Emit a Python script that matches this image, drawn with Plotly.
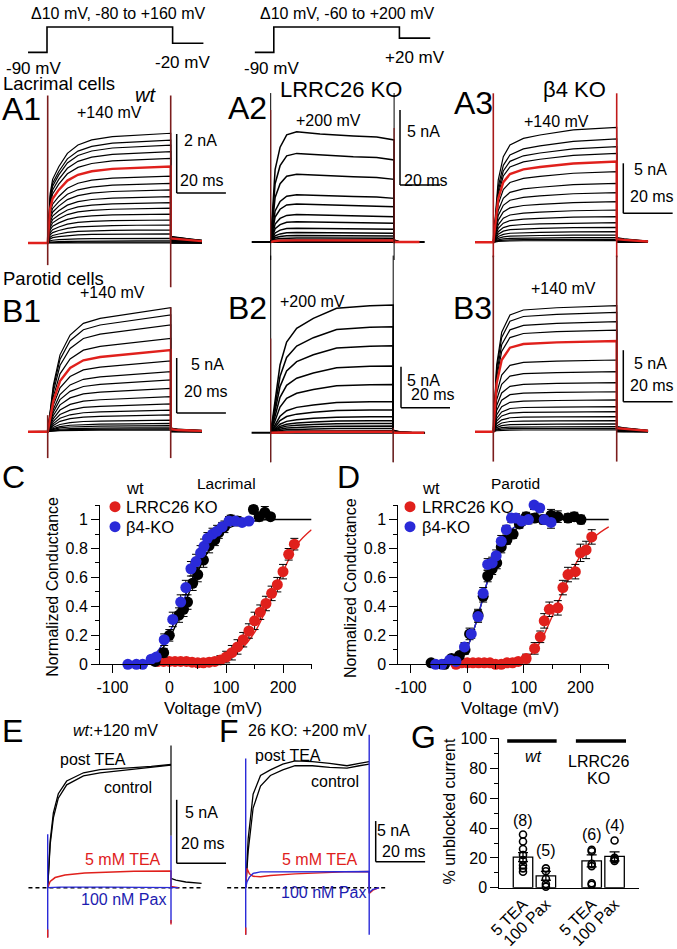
import plotly.graph_objects as go

W, H = 677, 949
FONT = "Liberation Sans, Arial, sans-serif"
RED = "#e0201c"
BLUE = "#2a2ad8"
DKRED = "#7b1d1d"

# ---------------- data: voltage protocols (schematic, ms / mV) ----------------
prot_t = [-8, 0, 0, 53, 53, 66]
prot1_mv = [-90, -90, 105, 105, -20, -20]
prot2_mv = [-90, -90, 105, 105, 20, 20]

# ---------------- data: current families (ms, nA) ----------------
TAIL_DT = [0, 3, 8, 12.7]

a1_t = [0, 1, 2, 4.5, 8, 12.3, 17.9, 26.3, 36.2, 50]
a1_shape = [0, 0.45, 0.58, 0.695, 0.817, 0.893, 0.939, 0.97, 0.985, 1.0]
a1_amp = [3.72, 3.49, 3.32, 3.10, 2.87, 2.59, 2.27, 2.02, 1.80, 1.57, 1.37, 1.18,
          0.98, 0.78, 0.61, 0.44, 0.31, 0.16, 0.07, 0.03, 0.0]
a1_red = 5
a1_tail = [0.06, 0.05, 0.035, 0.025]

a2_t = [0, 2.2, 4.7, 8, 13, 24.7, 41.3, 53, 61.7]
a2_shape = [0, 0.71, 0.93, 1.05, 1.08, 1.06, 1.04, 1.03, 1.0]
a2_amp = [6.8, 5.47, 4.18, 2.91, 2.35, 1.69, 1.25, 0.85, 0.58, 0.4, 0.25, 0.13, 0.1]
a2_red = 12
a2_tail = [0.02, 0.0, 0.0, 0.0]

a3_t = [0, 2.0, 4.05, 6.75, 12.2, 18.9, 32.4, 50]
a3_shape = [0, 0.54, 0.745, 0.846, 0.904, 0.933, 0.977, 1.0]
a3_amp = [11.5, 10.33, 9.57, 8.9, 8.07, 7.07, 5.9, 4.97, 4.07, 3.23, 2.57, 1.97,
          1.5, 1.07, 0.73, 0.47, 0.3, 0.17]
a3_red = 4
a3_tail = [0.04, 0.03, 0.02, 0.01]

b1_t = [0, 2.3, 5.0, 9.1, 14.5, 21.3, 34.8, 50]
b1_shape = [0, 0.376, 0.62, 0.78, 0.874, 0.914, 0.954, 1.0]
b1_amp = [11.27, 10.61, 9.7, 8.48, 7.43, 6.43, 5.45, 4.7, 3.94, 3.18, 2.52, 1.97,
          1.52, 1.06, 0.75, 0.55, 0.36, 0.25, 0.15]
b1_red = 4
b1_tail = [0.03, 0.02, 0.015, 0.01]

b2_t = [0, 1.8, 3.8, 6.5, 10.6, 17.4, 26.9, 40.5, 50]
b2_shape = [0, 0.243, 0.53, 0.71, 0.817, 0.896, 0.974, 0.995, 1.0]
b2_amp = [15.57, 12.93, 10.61, 8.13, 5.89, 3.78, 2.77, 1.95, 1.46, 1.13, 0.82, 0.52, 0.24, 0.12]
b2_red = 13
b2_tail = [0.02, 0.005, 0.0, 0.0]

b3_t = [0, 1.35, 3.4, 6.75, 12.2, 25.7, 50]
b3_shape = [0, 0.53, 0.79, 0.926, 0.966, 0.984, 1.0]
b3_amp = [12.23, 11.58, 10.68, 9.87, 8.81, 6.96, 5.83, 4.76, 3.88, 3.08, 2.43, 1.94,
          1.46, 1.07, 0.75, 0.49, 0.32, 0.17]
b3_red = 4
b3_tail = [0.04, 0.03, 0.02, 0.01]

# E: wt, +120 mV
e_t = [0, 1, 2.3, 4.3, 7.7, 14.5, 21.2, 28, 34.7, 42, 50]
e_control = [0, 3.4, 5.5, 7.05, 8.1, 8.8, 9.05, 9.2, 9.35, 9.5, 9.65]
e_post = [0, 3.7, 5.9, 7.4, 8.4, 9.05, 9.3, 9.35, 9.45, 9.55, 9.7]
e_tail_t = [50, 52, 56, 62.4]
e_tail = [0.74, 0.6, 0.45, 0.34]
e_tea_t = [0, 1, 3, 7, 15, 25, 35, 50, 50, 53]
e_tea = [0, 0.5, 0.8, 1.0, 1.15, 1.25, 1.3, 1.32, 0.1, 0.0]
e_pax_t = [0, 5, 25, 50, 53]
e_pax = [0, 0.05, 0.05, 0.05, 0.0]

# F: LRRC26 KO, +200 mV
f_t = [0, 1, 3, 6, 10, 15, 20, 27, 34, 41, 46, 50]
f_post = [0, 6.0, 11.5, 13.8, 14.5, 15.2, 15.6, 15.5, 15.3, 15.0, 15.3, 15.5]
f_control = [0, 4.5, 9.8, 12.5, 13.8, 14.5, 15.0, 15.0, 14.8, 14.7, 15.0, 15.2]
f_tea_t = [0, 0.5, 1.5, 3, 6, 10, 20, 30, 40, 50, 50, 51.5, 54]
f_tea = [0, 2.4, 1.7, 1.4, 1.35, 1.5, 1.7, 1.85, 1.95, 2.0, -0.7, -0.3, 0.0]
f_pax_t = [0, 0.5, 1.5, 3, 6, 10, 20, 30, 40, 50, 50, 51.5, 54]
f_pax = [0, 0.7, 1.3, 1.76, 1.95, 1.95, 1.9, 1.95, 1.97, 2.0, -0.6, -0.2, 0.0]

# ---------------- data: G-V curves ----------------
c_wt_v = [-40, -25, -10, 0, 17, 25, 32, 41, 50, 60, 70, 80, 87, 97, 108, 120, 148, 158, 168, 178]
c_wt_g = [-0.04, 0.02, 0.08, 0.2, 0.34, 0.38, 0.43, 0.56, 0.62, 0.72, 0.82, 0.86, 0.91, 0.95, 1.0, 0.99, 1.07, 1.02, 1.05, 1.02]
c_wt_e = [0.01, 0.02, 0.03, 0.04, 0.05, 0.05, 0.05, 0.05, 0.05, 0.05, 0.05, 0.04, 0.04, 0.04, 0.03, 0.03, 0.03, 0.03, 0.04, 0.02]
c_b4_v = [-73, -58, -47, -32, -23, -9, 6, 20, 29, 38, 47, 55, 61, 67, 76, 84, 93, 105, 116, 128, 140]
c_b4_g = [0.0, 0.0, 0.0, 0.035, 0.05, 0.17, 0.31, 0.43, 0.53, 0.66, 0.71, 0.77, 0.815, 0.87, 0.9, 0.92, 0.95, 0.99, 0.99, 0.98, 0.99]
c_b4_e = [0.01, 0.01, 0.01, 0.02, 0.02, 0.04, 0.05, 0.05, 0.05, 0.05, 0.05, 0.05, 0.05, 0.04, 0.04, 0.04, 0.03, 0.03, 0.02, 0.02, 0.02]
c_red_v = [-30, -20, -10, 0, 10, 20, 30, 40, 50, 60, 70, 80, 90, 100, 110, 120, 130, 140, 150, 160, 170, 180, 190, 200, 210, 220]
c_red_g = [0.03, 0.02, 0.02, 0.02, 0.02, 0.02, 0.02, 0.015, 0.01, 0.01, 0.015, 0.02, 0.03, 0.05, 0.08, 0.12, 0.17, 0.23, 0.3, 0.36, 0.42, 0.49, 0.55, 0.64, 0.76, 0.83]
c_red_e = [0.01, 0.01, 0.01, 0.01, 0.01, 0.01, 0.01, 0.01, 0.01, 0.01, 0.02, 0.02, 0.03, 0.04, 0.05, 0.05, 0.05, 0.05, 0.06, 0.05, 0.05, 0.05, 0.05, 0.05, 0.04, 0.04]
c_fit_v = [-60, -40, -25, -10, 0, 12.5, 25, 37.5, 50, 62.5, 75, 100, 125, 150, 175, 200, 250]
c_fit_wt = [0.0, 0.01, 0.05, 0.12, 0.18, 0.28, 0.40, 0.52, 0.64, 0.74, 0.82, 0.93, 0.97, 0.99, 1.0, 1.0, 1.0]
c_fit_b4 = [0.005, 0.02, 0.07, 0.15, 0.22, 0.32, 0.44, 0.56, 0.67, 0.77, 0.84, 0.94, 0.98, 0.99, 1.0, 1.0, 1.0]
c_fit_red_v = [-40, 0, 50, 100, 125, 150, 175, 200, 225, 250]
c_fit_red = [0.01, 0.01, 0.01, 0.04, 0.1, 0.22, 0.42, 0.64, 0.83, 0.93]

d_wt_v = [-64, -52, -40, -28, -14, -4, 4, 19, 28, 36, 44, 52, 60, 70, 81, 92, 104, 119, 134, 148, 160, 178, 189, 201]
d_wt_g = [0.01, -0.01, 0.0, 0.04, 0.06, 0.1, 0.21, 0.34, 0.47, 0.61, 0.66, 0.7, 0.81, 0.86, 0.9, 0.97, 1.02, 1.01, 1.0, 1.03, 1.02, 1.01, 1.02, 1.0]
d_wt_e = [0.01, 0.01, 0.01, 0.02, 0.02, 0.03, 0.04, 0.04, 0.04, 0.04, 0.04, 0.04, 0.04, 0.03, 0.03, 0.03, 0.03, 0.03, 0.03, 0.04, 0.04, 0.03, 0.03, 0.03]
d_b4_v = [-56, -45, -31, -20, -5, 7, 19, 28, 36, 44, 51, 60, 69, 78, 86, 96, 108, 118, 128, 136, 148]
d_b4_g = [0.0, 0.0, 0.03, 0.02, 0.12, 0.21, 0.33, 0.49, 0.69, 0.7, 0.75, 0.85, 0.93, 1.01, 1.01, 0.99, 1.0, 1.1, 1.08, 1.0, 0.98]
d_b4_e = [0.01, 0.01, 0.02, 0.02, 0.03, 0.03, 0.04, 0.04, 0.04, 0.04, 0.04, 0.04, 0.03, 0.03, 0.03, 0.03, 0.03, 0.03, 0.03, 0.03, 0.04]
d_red_v = [-34, -20, -10, 0, 10, 20, 30, 40, 50, 60, 70, 80, 90, 104, 119, 129, 136, 145, 160, 169, 178, 191, 200, 210, 220]
d_red_g = [-0.02, 0.0, 0.01, 0.01, 0.01, 0.01, 0.01, 0.01, 0.0, 0.0, 0.01, 0.01, 0.02, 0.04, 0.11, 0.19, 0.3, 0.38, 0.39, 0.53, 0.62, 0.64, 0.77, 0.79, 0.88]
d_red_e = [0.01, 0.01, 0.01, 0.01, 0.01, 0.01, 0.01, 0.01, 0.01, 0.01, 0.01, 0.01, 0.02, 0.03, 0.04, 0.04, 0.05, 0.05, 0.05, 0.05, 0.05, 0.05, 0.06, 0.06, 0.05]
d_fit_v = [-70, -40, -25, -10, 0, 12.5, 25, 37.5, 50, 62.5, 75, 100, 125, 150, 200, 250]
d_fit_wt = [0.0, 0.01, 0.03, 0.07, 0.12, 0.25, 0.42, 0.6, 0.74, 0.85, 0.92, 0.98, 1.0, 1.0, 1.0, 1.0]
d_fit_red_v = [-40, 50, 100, 125, 150, 175, 200, 225, 250]
d_fit_red = [0.0, 0.0, 0.03, 0.13, 0.33, 0.56, 0.75, 0.88, 0.95]

# ---------------- data: G bar chart ----------------
g_pos = [0, 1, 3, 4]
g_labels = ["5 TEA", "100 Pax", "5 TEA", "100 Pax"]
g_mean = [20.5, 8, 18, 21]
g_sem = [3, 3, 4, 3]
g_points = [
    [35.7, 31, 26, 22, 18.5, 15, 13, 10.7],
    [13, 11, 6, 2.5, 0.7],
    [25.5, 24.5, 16, 14.5, 3, 2],
    [31.7, 20, 19, 18],
]
g_n = ["(8)", "(5)", "(6)", "(4)"]
g_n_y = [45.3, 25.2, 36, 42]

# ---------------- helpers ----------------
fig = go.Figure()
lay = {}
ax_n = [0]


def new_axes(box, xr, yr, xstyle=None, ystyle=None):
    ax_n[0] += 1
    n = ax_n[0]
    s = "" if n == 1 else str(n)
    L, R, T, B = box
    xd = dict(domain=[L / W, R / W], range=xr, anchor="y" + s, fixedrange=True,
              showgrid=False, zeroline=False, automargin=False)
    yd = dict(domain=[1 - B / H, 1 - T / H], range=yr, anchor="x" + s, fixedrange=True,
              showgrid=False, zeroline=False, automargin=False)
    if xstyle is None:
        xd["visible"] = False
    else:
        xd.update(xstyle)
    if ystyle is None:
        yd["visible"] = False
    else:
        yd.update(ystyle)
    lay["xaxis" + s] = xd
    lay["yaxis" + s] = yd
    return "x" + s, "y" + s


def px_axes(g):
    L, R, T, B = g["box"]
    xr = [(L - g["x0"]) / g["sx"], (R - g["x0"]) / g["sx"]]
    yr = [(g["y0"] - B) / g["sy"], (g["y0"] - T) / g["sy"]]
    return new_axes(g["box"], xr, yr)


def line(ax, x, y, color="black", width=1.2, dash=None, shape="linear"):
    fig.add_trace(go.Scatter(x=x, y=y, mode="lines", xaxis=ax[0], yaxis=ax[1],
                             line=dict(color=color, width=width, dash=dash, shape=shape),
                             hoverinfo="skip"))


def family(ax, t, shape, amps, red, pre, tail, lw=1.2):
    T = t[-1]
    order = [i for i in range(len(amps)) if i != red] + [red]
    for i in order:
        a = amps[i]
        x = [-pre, 0] + list(t) + [T + d for d in TAIL_DT]
        y = [0, 0] + [a * s for s in shape] + [a * f for f in tail]
        line(ax, x, y, RED if i == red else "black", 2.4 if i == red else lw)


shapes = []
annos = []


def scalebar(ax, g, corner, ilen, tlen=20, lw=1.5):
    t = (corner[0] - g["x0"]) / g["sx"]
    i = (g["y0"] - corner[1]) / g["sy"]
    shapes.append(dict(type="line", xref=ax[0], yref=ax[1], x0=t, x1=t, y0=i, y1=i + ilen,
                       line=dict(color="black", width=lw)))
    shapes.append(dict(type="line", xref=ax[0], yref=ax[1], x0=t, x1=t + tlen, y0=i, y1=i,
                       line=dict(color="black", width=lw)))


def txt(s, x, y, size=16, color="black", xanchor="center", angle=0, yanchor="middle"):
    annos.append(dict(text=s, x=x / W, y=1 - y / H, xref="paper", yref="paper",
                      showarrow=False, xanchor=xanchor, yanchor=yanchor, textangle=angle,
                      borderpad=0, font=dict(size=size, color=color, family=FONT)))


GEOM = {
    "P1": dict(box=(15, 215, 18, 62), x0=47.0, sx=2.37, y0=40.7, sy=0.13),
    "P2": dict(box=(240, 445, 18, 62), x0=273.8, sx=2.37, y0=40.7, sy=0.13),
    "A1": dict(box=(15, 232, 88, 300), x0=47.7, sx=2.46, y0=243, sy=29.5),
    "A2": dict(box=(238, 455, 88, 300), x0=270.7, sx=2.0, y0=242, sy=15),
    "A3": dict(box=(455, 677, 88, 300), x0=493.3, sx=2.468, y0=242.3, sy=10),
    "B1": dict(box=(15, 232, 250, 470), x0=47.7, sx=2.46, y0=431.7, sy=11),
    "B2": dict(box=(238, 455, 250, 470), x0=270.7, sx=2.45, y0=432.7, sy=8.2),
    "B3": dict(box=(455, 677, 250, 470), x0=493.3, sx=2.468, y0=431.7, sy=10.3),
    "E": dict(box=(15, 232, 725, 945), x0=47.7, sx=2.466, y0=887.7, sy=12.7),
    "F": dict(box=(225, 445, 725, 945), x0=245.7, sx=2.47, y0=887.7, sy=8.13),
}

# ---------------- protocols ----------------
axP1 = px_axes(GEOM["P1"])
line(axP1, prot_t, prot1_mv, width=1.6)
axP2 = px_axes(GEOM["P2"])
line(axP2, prot_t, prot2_mv, width=1.6)
txt("\u039410 mV, -80 to +160 mV", 118, 13, 16)
txt("-90 mV", 33.6, 68, 17)
txt("-20 mV", 183, 63, 17)
txt("\u039410 mV, -60 to +200 mV", 347, 13, 16)
txt("-90 mV", 271, 68, 17)
txt("+20 mV", 415, 57, 17)

# ---------------- A row ----------------
axA1 = px_axes(GEOM["A1"])
family(axA1, a1_t, a1_shape, a1_amp, a1_red, 8, a1_tail)
line(axA1, [0, 0], [5.0, -0.75], DKRED, 1.6)
line(axA1, [50, 50], [5.0, -1.5], DKRED, 1.6)
scalebar(axA1, GEOM["A1"], (176.7, 193), 2)

axA2 = px_axes(GEOM["A2"])
line(axA2, [-9.5, 77], [0, 0], "black", 2)
family(axA2, a2_t, a2_shape, a2_amp, a2_red, 0, a2_tail, lw=1.5)
line(axA2, [0, 0], [9.93, -1.2], "black", 1)
line(axA2, [0, 0], [8.8, 0.13], DKRED, 1.2)
line(axA2, [61.7, 61.7], [9.93, -1.2], "black", 1)
line(axA2, [61.7, 61.7], [7.6, 0.13], DKRED, 1.2)
scalebar(axA2, GEOM["A2"], (400, 185), 5)

axA3 = px_axes(GEOM["A3"])
family(axA3, a3_t, a3_shape, a3_amp, a3_red, 7.4, a3_tail)
line(axA3, [0, 0], [14.9, -1.5], "#a81a1a", 1.6)
line(axA3, [50, 50], [14.9, -1.5], "#c01a1a", 1.6)
scalebar(axA3, GEOM["A3"], (623.3, 213.3), 5)

txt("Lacrimal cells", 2, 83, 18.5, xanchor="left")
txt("A1", 1, 108.5, 32, xanchor="left")
txt("<i>wt</i>", 145, 95, 20)
txt("+140 mV", 109, 113, 16)
txt("2 nA", 200, 141, 16)
txt("20 ms", 201.5, 180, 16)
txt("A2", 248, 107.5, 32)
txt("LRRC26 KO", 341, 90, 22)
txt("+200 mV", 328, 120, 16)
txt("5 nA", 423, 131.7, 16)
txt("20 ms", 426, 180, 16)
txt("A3", 473, 103, 32)
txt("\u03b24 KO", 574, 90, 22)
txt("+140 mV", 556, 121.7, 16)
txt("5 nA", 650, 169, 16)
txt("20 ms", 652, 196, 16)

# ---------------- B row ----------------
axB1 = px_axes(GEOM["B1"])
family(axB1, b1_t, b1_shape, b1_amp, b1_red, 8, b1_tail)
line(axB1, [0, 0], [1.5, -2.4], DKRED, 1.6)
line(axB1, [50, 50], [11.3, -2.4], DKRED, 1.6)
scalebar(axB1, GEOM["B1"], (176.7, 413), 5)

axB2 = px_axes(GEOM["B2"])
line(axB2, [-7.8, 63], [0, 0], "black", 2)
family(axB2, b2_t, b2_shape, b2_amp, b2_red, 0, b2_tail, lw=1.5)
line(axB2, [0, 0], [21.6, -3.6], "black", 1)
line(axB2, [0, 0], [11.5, -3.6], DKRED, 1.2)
line(axB2, [50, 50], [21.6, -3.6], "black", 1)
line(axB2, [50, 50], [0.6, -3.6], DKRED, 1.2)
scalebar(axB2, GEOM["B2"], (401, 407.7), 5)

axB3 = px_axes(GEOM["B3"])
family(axB3, b3_t, b3_shape, b3_amp, b3_red, 7.4, b3_tail)
line(axB3, [0, 0], [17.1, -2.9], DKRED, 1.6)
line(axB3, [50, 50], [17.1, -2.9], DKRED, 1.6)
scalebar(axB3, GEOM["B3"], (623.3, 401.7), 5)

txt("Parotid cells", 2, 279, 18.5, xanchor="left")
txt("B1", 1, 311, 32, xanchor="left")
txt("+140 mV", 112, 292, 16)
txt("5 nA", 207, 364, 16)
txt("20 ms", 206, 391.7, 16)
txt("B2", 248, 308, 32)
txt("+200 mV", 312, 301.7, 16)
txt("5 nA", 423, 380, 16)
txt("20 ms", 433, 394, 16)
txt("B3", 472, 308, 32)
txt("+140 mV", 563, 288.3, 16)
txt("5 nA", 650, 363, 16)
txt("20 ms", 652, 386, 16)

# ---------------- C and D ----------------
CBOX = (100, 311.7, 505, 664.3)
DBOX = (398.3, 609, 505, 664.3)
XR = [-122, 250.5]
YR = [0, 1.1005]
tick_font = dict(size=16, family=FONT, color="black")
gv_x = dict(showline=True, linecolor="black", linewidth=1, ticks="outside", ticklen=8,
            tickcolor="black", tickfont=tick_font, tickmode="array",
            tickvals=[-100, 0, 100, 200], ticktext=["-100", "0", "100", "200"],
            minor=dict(ticks="outside", ticklen=4, tickcolor="black", dtick=50, tick0=0))
gv_y = dict(showline=True, linecolor="black", linewidth=1, ticks="outside", ticklen=8,
            tickcolor="black", tickfont=tick_font, dtick=0.2, tick0=0,
            minor=dict(ticks="outside", ticklen=4, tickcolor="black", dtick=0.1, tick0=0))


def to_data(box, xr, yr, px, py):
    L, R, T, B = box
    return (xr[0] + (px - L) / (R - L) * (xr[1] - xr[0]),
            yr[0] + (B - py) / (B - T) * (yr[1] - yr[0]))


def pts(ax, v, g, e, color):
    fig.add_trace(go.Scatter(x=v, y=g, mode="markers", xaxis=ax[0], yaxis=ax[1],
                             cliponaxis=False, hoverinfo="skip",
                             marker=dict(size=11, color=color, line=dict(width=0)),
                             error_y=dict(type="data", array=e, color="black",
                                          thickness=1, width=4)))


def legend(ax, box, mx, tx):
    for name, color, py in [("wt", "black", 488.3), ("LRRC26 KO", RED, 506.7),
                            ("\u03b24-KO", BLUE, 526.7)]:
        x, y = to_data(box, XR, YR, mx, py)
        fig.add_trace(go.Scatter(x=[x], y=[y], mode="markers", xaxis=ax[0], yaxis=ax[1],
                                 cliponaxis=False, hoverinfo="skip",
                                 marker=dict(size=11, color=color)))
        txt(name, tx, py, 16.5, xanchor="left")


axC = new_axes(CBOX, XR, YR, gv_x, gv_y)
line(axC, c_fit_v, c_fit_wt, "black", 1.4, shape="spline")
line(axC, c_fit_v[:14], c_fit_b4[:14], BLUE, 1.4, shape="spline")
line(axC, c_fit_red_v, c_fit_red, RED, 1.4, shape="spline")
pts(axC, c_red_v, c_red_g, c_red_e, RED)
pts(axC, c_wt_v, c_wt_g, c_wt_e, "black")
pts(axC, c_b4_v, c_b4_g, c_b4_e, BLUE)
legend(axC, CBOX, 115, 125)
txt("C", 1, 477, 32, xanchor="left")
txt("Lacrimal", 226.7, 483, 15.5)
txt("Voltage (mV)", 213, 708, 17)
txt("Normalized Conductance", 51.7, 587, 16, angle=-90)

axD = new_axes(DBOX, XR, YR, gv_x, gv_y)
line(axD, d_fit_v, d_fit_wt, "black", 1.4, shape="spline")
line(axD, d_fit_v[:13], d_fit_wt[:13], BLUE, 1.4, shape="spline")
line(axD, d_fit_red_v, d_fit_red, RED, 1.4, shape="spline")
pts(axD, d_red_v, d_red_g, d_red_e, RED)
pts(axD, d_wt_v, d_wt_g, d_wt_e, "black")
pts(axD, d_b4_v, d_b4_g, d_b4_e, BLUE)
legend(axD, DBOX, 410, 421)
txt("D", 336, 477, 32, xanchor="left")
txt("Parotid", 515, 483, 15.5)
txt("Voltage (mV)", 510, 708, 17)
txt("Normalized Conductance", 350, 588, 16, angle=-90)

# ---------------- E ----------------
axE = px_axes(GEOM["E"])
line(axE, [-7.8, 62.4], [0, 0], "black", 1.6, dash="4px,3px")
line(axE, e_t, e_control, "black", 1.3)
line(axE, e_t, e_post, "black", 1.3)
line(axE, e_tail_t, e_tail, "black", 1.3)
line(axE, e_tea_t, e_tea, RED, 1.5)
line(axE, e_pax_t, e_pax, BLUE, 1.3)
line(axE, [0, 0], [4.2, -3.9], BLUE, 1.4)
line(axE, [0, 0], [-3.3, -3.95], RED, 1.4)
line(axE, [50, 50], [11.2, 4.1], "black", 1.2)
line(axE, [50, 50], [4.1, -2.8], BLUE, 1.4)
line(axE, [50, 50], [-2.55, -2.9], RED, 1.4)
scalebar(axE, GEOM["E"], (176.7, 863.3), 5)
txt("E", 1, 731, 32, xanchor="left")
txt("<i>wt</i>:+120 mV", 115, 730, 16)
txt("post TEA", 93.3, 759, 16)
txt("control", 128, 787.7, 16)
txt("5 nA", 201.7, 812.3, 16)
txt("20 ms", 203, 843.3, 16)
txt("5 mM TEA", 123, 859.3, 16, RED)
txt("100 nM Pax", 123.3, 899, 16, "#1c1cb0")

# ---------------- F ----------------
axF = px_axes(GEOM["F"])
line(axF, [-7.5, 56.5], [0, 0], "black", 1.6, dash="4px,3px")
line(axF, f_t, f_control, "black", 1.3)
line(axF, f_t, f_post, "black", 1.3)
line(axF, f_tea_t, f_tea, RED, 1.4)
line(axF, f_pax_t, f_pax, BLUE, 1.4)
line(axF, [0, 0], [15.9, -5.8], BLUE, 1.4)
line(axF, [0, 0], [-4.9, -5.8], RED, 1.4)
line(axF, [50, 50], [18.8, -5.8], BLUE, 1.4)
scalebar(axF, GEOM["F"], (375.7, 861.7), 5)
txt("F", 218, 731, 32, xanchor="left")
txt("26 KO: +200 mV", 307, 730, 16)
txt("post TEA", 288, 755.7, 16)
txt("control", 335, 781, 16)
txt("5 nA", 393.3, 830, 16)
txt("20 ms", 404, 851, 16)
txt("5 mM TEA", 320, 859, 16, RED)
txt("100 nM Pax", 323, 892, 16, "#1c1cb0")

# ---------------- G ----------------
GBOX = (499.3, 639.3, 738.3, 887.7)
g_x = dict(showline=True, linecolor="black", linewidth=1, ticks="", tickmode="array",
           tickvals=g_pos, ticktext=g_labels, tickangle=-45, tickfont=tick_font)
g_y = dict(showline=True, linecolor="black", linewidth=1, ticks="outside", ticklen=8,
           tickcolor="black", tickfont=tick_font, dtick=20, tick0=0,
           minor=dict(ticks="outside", ticklen=4, tickcolor="black", dtick=10, tick0=0))
axG = new_axes(GBOX, [-1.035, 5.08], [0, 100.3], g_x, g_y)
fig.add_trace(go.Bar(x=g_pos, y=g_mean, width=0.85, xaxis=axG[0], yaxis=axG[1],
                     marker=dict(color="white", line=dict(color="black", width=1.3)),
                     error_y=dict(type="data", array=g_sem, color="black", thickness=1.3, width=5),
                     hoverinfo="skip"))
for p, vals in zip(g_pos, g_points):
    fig.add_trace(go.Scatter(x=[p] * len(vals), y=vals, mode="markers", xaxis=axG[0],
                             yaxis=axG[1], cliponaxis=False, hoverinfo="skip",
                             marker=dict(symbol="circle-open", size=7, color="black",
                                         line=dict(width=1.6))))
for p, s, y in zip(g_pos, g_n, g_n_y):
    annos.append(dict(text=s, x=p, y=y, xref=axG[0], yref=axG[1], showarrow=False,
                      font=dict(size=16, family=FONT, color="black")))
shapes.append(dict(type="line", xref=axG[0], yref=axG[1], x0=-0.69, x1=1.47, y0=98.5, y1=98.5,
                   line=dict(color="black", width=3.5)))
shapes.append(dict(type="line", xref=axG[0], yref=axG[1], x0=2.31, x1=4.5, y0=98.5, y1=98.5,
                   line=dict(color="black", width=3.5)))
txt("G", 410, 737, 32, xanchor="left")
txt("<i>wt</i>", 533.3, 756.7, 16)
txt("LRRC26", 598, 761.7, 16)
txt("KO", 598, 778, 16)
txt("% unblocked current", 448.5, 812, 16, angle=-90)

lay.update(dict(width=W, height=H, margin=dict(l=0, r=0, t=0, b=0, pad=0),
                paper_bgcolor="white", plot_bgcolor="rgba(0,0,0,0)", showlegend=False,
                font=dict(family=FONT, color="black"), shapes=shapes, annotations=annos,
                bargap=0))
fig.update_layout(**lay)
fig.write_html("out.html", config={"displayModeBar": False, "staticPlot": True},
               post_script="document.body.style.margin='0';document.body.style.padding='0';")
